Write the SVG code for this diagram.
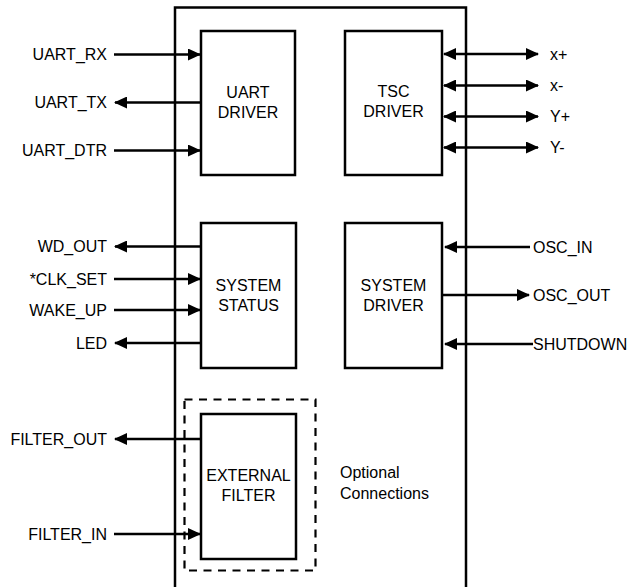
<svg xmlns="http://www.w3.org/2000/svg" width="627" height="587" viewBox="0 0 627 587">
<defs>
<marker id="ah" viewBox="0 0 13 12" refX="12" refY="6" markerWidth="13" markerHeight="12" markerUnits="userSpaceOnUse" orient="auto-start-reverse">
<path d="M0,0 L13,6 L0,12 z" fill="#000"/>
</marker>
<style>
.box{fill:#fff;stroke:#000;stroke-width:2.5}
.outer{fill:none;stroke:#000;stroke-width:2.5}
.dash{fill:none;stroke:#000;stroke-width:2.2;stroke-dasharray:8 6.5}
.c{stroke:#000;stroke-width:2.7;fill:none}
text{font-family:"Liberation Sans",Arial,Helvetica,sans-serif;font-size:16px;fill:#000}
.m{text-anchor:middle}
.r{text-anchor:end}
</style>
</defs>
<rect width="627" height="587" fill="#fff"/>
<rect id="chip" class="outer" x="175" y="7.5" width="291" height="600"/>
<g id="connectors">
<line class="c" x1="114" y1="54.5" x2="200" y2="54.5" marker-end="url(#ah)"/>
<line class="c" x1="201" y1="102.5" x2="115" y2="102.5" marker-end="url(#ah)"/>
<line class="c" x1="114" y1="150.5" x2="200" y2="150.5" marker-end="url(#ah)"/>
<line class="c" x1="444" y1="54" x2="538" y2="54" marker-start="url(#ah)" marker-end="url(#ah)"/>
<line class="c" x1="444" y1="85.5" x2="538" y2="85.5" marker-start="url(#ah)" marker-end="url(#ah)"/>
<line class="c" x1="444" y1="116.5" x2="538" y2="116.5" marker-start="url(#ah)" marker-end="url(#ah)"/>
<line class="c" x1="444" y1="147.5" x2="538" y2="147.5" marker-start="url(#ah)" marker-end="url(#ah)"/>
<line class="c" x1="201" y1="246.5" x2="115" y2="246.5" marker-end="url(#ah)"/>
<line class="c" x1="114" y1="279" x2="200" y2="279" marker-end="url(#ah)"/>
<line class="c" x1="114" y1="310" x2="200" y2="310" marker-end="url(#ah)"/>
<line class="c" x1="201" y1="343" x2="115" y2="343" marker-end="url(#ah)"/>
<line class="c" x1="530" y1="247" x2="445" y2="247" marker-end="url(#ah)"/>
<line class="c" x1="442" y1="295" x2="529" y2="295" marker-end="url(#ah)"/>
<line class="c" x1="533" y1="344" x2="445" y2="344" marker-end="url(#ah)"/>
<line class="c" x1="201" y1="439" x2="115" y2="439" marker-end="url(#ah)"/>
<line class="c" x1="114" y1="534" x2="200" y2="534" marker-end="url(#ah)"/>
</g>
<g id="uart-driver">
<rect class="box" x="201" y="31" width="94" height="144"/>
<text class="m" x="248" y="98">UART</text>
<text class="m" x="248" y="118">DRIVER</text>
</g>
<g id="tsc-driver">
<rect class="box" x="345" y="31" width="97" height="144"/>
<text class="m" x="393.5" y="97">TSC</text>
<text class="m" x="393.5" y="117">DRIVER</text>
</g>
<g id="system-status">
<rect class="box" x="201" y="223" width="95" height="145"/>
<text class="m" x="248.5" y="291">SYSTEM</text>
<text class="m" x="248.5" y="311">STATUS</text>
</g>
<g id="system-driver">
<rect class="box" x="345" y="223" width="97" height="145"/>
<text class="m" x="393.5" y="291">SYSTEM</text>
<text class="m" x="393.5" y="311">DRIVER</text>
</g>
<g id="optional-connections">
<rect class="dash" x="184.5" y="399.5" width="131" height="171"/>
<text x="340" y="478">Optional</text>
<text x="340" y="499">Connections</text>
</g>
<g id="external-filter">
<rect class="box" x="201" y="414" width="95" height="145"/>
<text class="m" x="248.5" y="481">EXTERNAL</text>
<text class="m" x="248.5" y="501">FILTER</text>
</g>
<g id="labels">
<text class="r" x="107" y="60">UART_RX</text>
<text class="r" x="107" y="108">UART_TX</text>
<text class="r" x="107" y="156">UART_DTR</text>
<text x="550" y="59.5">x+</text>
<text x="550" y="91">x-</text>
<text x="550" y="122">Y+</text>
<text x="550" y="153">Y-</text>
<text class="r" x="107" y="252">WD_OUT</text>
<text class="r" x="107" y="284.5">*CLK_SET</text>
<text class="r" x="107" y="315.5">WAKE_UP</text>
<text class="r" x="107" y="348.5">LED</text>
<text x="533" y="252.5">OSC_IN</text>
<text x="533" y="300.5">OSC_OUT</text>
<text x="533" y="349.5">SHUTDOWN</text>
<text class="r" x="107" y="444.5">FILTER_OUT</text>
<text class="r" x="107" y="539.5">FILTER_IN</text>
</g>
</svg>
